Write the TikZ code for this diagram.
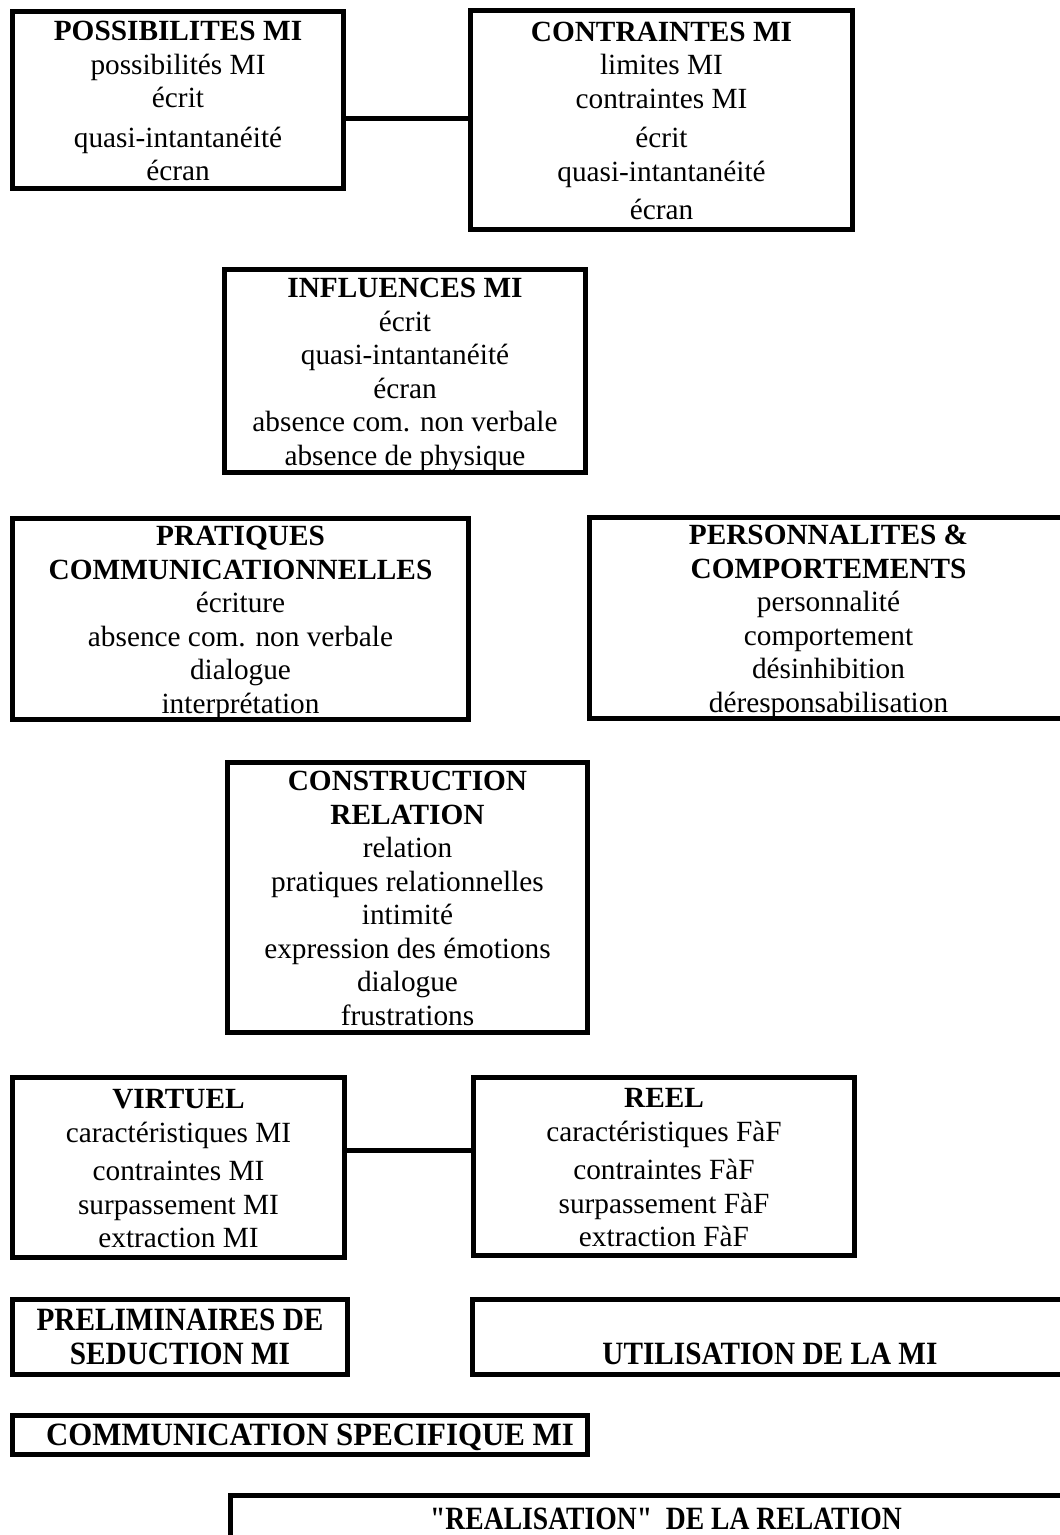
\documentclass[tikz,border=0pt]{standalone}
\usepackage{fontspec}
\setmainfont{Liberation Serif}
\newfontfamily\condfont[FakeStretch=0.9]{Liberation Serif}
\newfontfamily\condfontb[FakeStretch=0.95]{Liberation Serif}
\newfontfamily\condfontc[FakeStretch=0.85]{Liberation Serif}
\newcommand{\fstr}{\rule{0pt}{27pt}}
\newcommand{\lstr}{\rule[-6pt]{0pt}{6pt}}
\begin{document}
\begin{tikzpicture}[x=1pt,y=-1pt,
  box/.style={draw, line width=5pt, inner sep=0pt, align=center,
    font=\fontsize{29.3}{33.5}\selectfont},
  cbox/.style={box, font=\fontsize{32.5}{34}\condfont},
  link/.style={line width=5pt}]
\useasboundingbox (0,0) rectangle (1060,1535);
\clip (0,0) rectangle (1060,1535);
\node[box, minimum width=331, minimum height=177] (poss) at (178,100)
  {\fstr\textbf{POSSIBILITES MI}\\possibilités MI\\écrit\\[6pt]quasi-intantanéité\\écran\lstr};
\node[box, minimum width=382, minimum height=219] (contr) at (661.5,120)
  {\fstr\textbf{CONTRAINTES MI}\\limites MI\\contraintes MI\\[6pt]écrit\\quasi-intantanéité\\[5pt]écran\lstr};
\node[box, minimum width=361, minimum height=203] (infl) at (405,371)
  {\fstr\textbf{INFLUENCES MI}\\écrit\\quasi-intantanéité\\écran\\absence com. non verbale\\absence de physique\lstr};
\node[box, minimum width=456, minimum height=201] (prat) at (240.5,619)
  {\fstr\textbf{PRATIQUES}\\\textbf{COMMUNICATIONNELLES}\\écriture\\absence com. non verbale\\dialogue\\interprétation\lstr};
\node[box, minimum width=478, minimum height=199] (pers) at (828.5,618)
  {\fstr\textbf{PERSONNALITES \&}\\\textbf{COMPORTEMENTS}\\personnalité\\comportement\\désinhibition\\déresponsabilisation\lstr};
\node[box, minimum width=360, minimum height=270] (constr) at (407.5,897.5)
  {\fstr\textbf{CONSTRUCTION}\\\textbf{RELATION}\\relation\\pratiques relationnelles\\intimité\\expression des émotions\\dialogue\\frustrations\lstr};
\node[box, minimum width=332, minimum height=180] (virt) at (178.5,1167.5)
  {\fstr\textbf{VIRTUEL}\\caractéristiques MI\\[5pt]contraintes MI\\surpassement MI\\extraction MI\lstr};
\node[box, minimum width=381, minimum height=178] (reel) at (664,1166.5)
  {\fstr\textbf{REEL}\\caractéristiques FàF\\[5pt]contraintes FàF\\surpassement FàF\\extraction FàF\lstr};
\node[cbox, minimum width=335, minimum height=75] (prel) at (180,1337)
  {\fstr\textbf{PRELIMINAIRES DE}\\\textbf{SEDUCTION MI}\lstr};
\node[cbox, minimum width=595, minimum height=75] (util) at (770,1337)
  {\fstr\\\textbf{UTILISATION DE LA MI}\lstr};
\node[cbox, font=\fontsize{32.5}{34}\condfontb, minimum width=575, minimum height=39] (comm) at (300,1435)
  {\fstr\hspace{20pt}\textbf{COMMUNICATION SPECIFIQUE MI}\lstr};
\node[cbox, font=\fontsize{32.5}{34}\condfontc, minimum width=871, minimum height=47] (real) at (666,1519)
  {\fstr\textbf{\symbol{"22}REALISATION\symbol{"22}\ \ DE LA RELATION}\lstr};
\draw[link] ([yshift=-18pt]poss.east) -- ([yshift=-18pt]poss.east -| contr.west);
\draw[link] ([yshift=17pt]virt.east) -- ([yshift=17pt]virt.east -| reel.west);
\end{tikzpicture}
\end{document}
